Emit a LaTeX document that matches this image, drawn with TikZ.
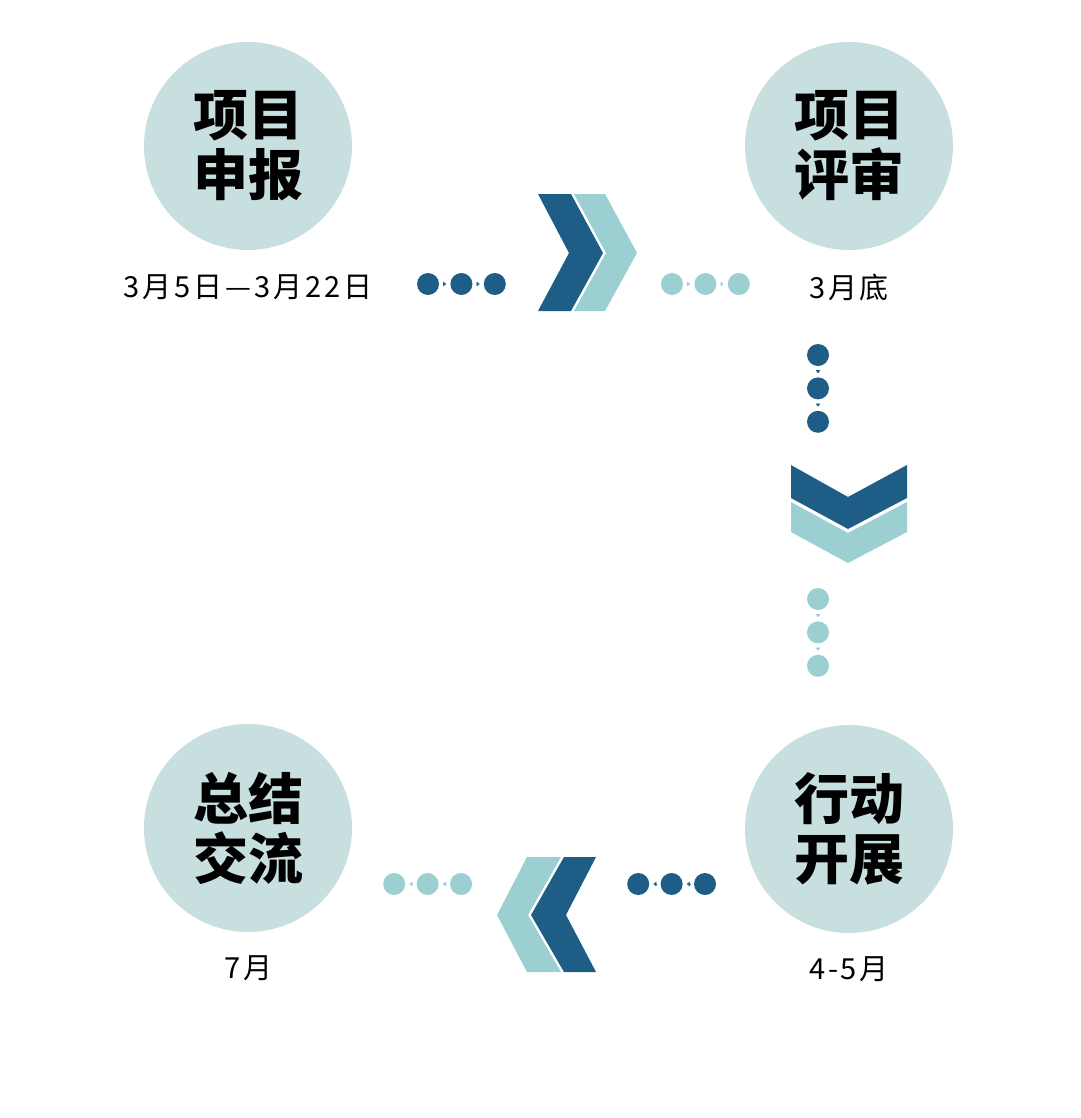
\documentclass[tikz,border=0pt]{standalone}
\usepackage{fontspec}
\usetikzlibrary{arrows.meta,positioning}
\newfontfamily\cjkheavy{Noto Sans CJK SC Black}
\newfontfamily\cjk[LetterSpace=10]{Noto Sans CJK SC}
\definecolor{pdark}{HTML}{1E5E86}
\definecolor{plight}{HTML}{9CCFD1}
\definecolor{pcirc}{HTML}{C8DFE0}

\begin{document}
\begin{tikzpicture}[x=1pt,y=-1pt,stage/.style={circle,fill=pcirc,minimum size=208pt,inner sep=0pt,align=center,font=\cjkheavy\fontsize{55}{60}\selectfont},
  when/.style={font=\cjk\fontsize{29}{31}\selectfont,inner sep=0pt},
  dot/.style={circle,fill=#1,minimum size=22pt,inner sep=0pt},
  arr/.style={-{Triangle[length=3pt,width=4.5pt]},color=#1,line width=0.4pt,shorten <=4pt,shorten >=4pt}]
\useasboundingbox (0,0) rectangle (1080,1118);
% stages
\node[stage] (s1) at (248,146) {项目\\申报};
\node[stage] (s2) at (849,146) {项目\\评审};
\node[stage] (s3) at (849,829) {行动\\开展};
\node[stage] (s4) at (248,828) {总结\\交流};
\node[when,below=24pt of s1] (t1) {3月5日—3月22日};
\node[when,below=24pt of s2] (t2) {3月底};
\node[when,below=23pt of s3] (t3) {4-5月};
\node[when,below=23pt of s4] (t4) {7月};
% dots
\node[dot=pdark] (a1) at (428,284) {}; \node[dot=pdark,right=11pt of a1] (a2) {}; \node[dot=pdark,right=11pt of a2] (a3) {};
\node[dot=plight] (b1) at (672,284) {}; \node[dot=plight,right=11pt of b1] (b2) {}; \node[dot=plight,right=11pt of b2] (b3) {};
\node[dot=pdark] (c1) at (818,355) {}; \node[dot=pdark,below=11pt of c1] (c2) {}; \node[dot=pdark,below=11pt of c2] (c3) {};
\node[dot=plight] (d1) at (818,599) {}; \node[dot=plight,below=11pt of d1] (d2) {}; \node[dot=plight,below=11pt of d2] (d3) {};
\node[dot=pdark] (e1) at (705,884) {}; \node[dot=pdark,left=11pt of e1] (e2) {}; \node[dot=pdark,left=11pt of e2] (e3) {};
\node[dot=plight] (f1) at (461,884) {}; \node[dot=plight,left=11pt of f1] (f2) {}; \node[dot=plight,left=11pt of f2] (f3) {};
\draw[arr=pdark] (a1)--(a2); \draw[arr=pdark] (a2)--(a3);
\draw[arr=plight] (b1)--(b2); \draw[arr=plight] (b2)--(b3);
\draw[arr=pdark] (c1)--(c2); \draw[arr=pdark] (c2)--(c3);
\draw[arr=plight] (d1)--(d2); \draw[arr=plight] (d2)--(d3);
\draw[arr=pdark] (e1)--(e2); \draw[arr=pdark] (e2)--(e3);
\draw[arr=plight] (f1)--(f2); \draw[arr=plight] (f2)--(f3);
% chevrons
\fill[pdark] (538,194)--(571,194)--(603,253)--(571,311)--(538,311)--(569,253)--cycle;
\fill[plight] (574,194)--(605,194)--(637,253)--(605,311)--(574,311)--(606,253)--cycle;
\fill[pdark] (791,465)--(848,497)--(907,465)--(907,498)--(848,529)--(791,498)--cycle;
\fill[plight] (791,502)--(848,533)--(907,502)--(907,532)--(848,563)--(791,532)--cycle;
\fill[plight] (527,857)--(561,857)--(528,915)--(561,972)--(527,972)--(497,915)--cycle;
\fill[pdark] (564,857)--(596,857)--(566,915)--(596,972)--(564,972)--(531,915)--cycle;
\end{tikzpicture}
\end{document}
